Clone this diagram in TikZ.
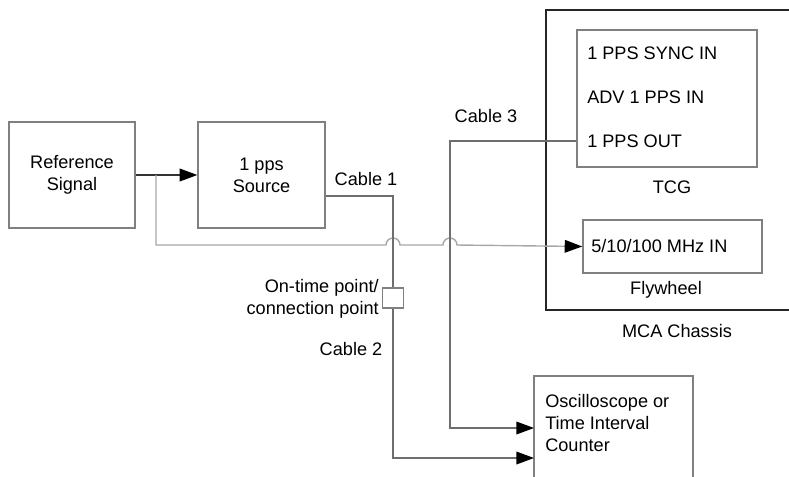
\documentclass[tikz,border=0pt]{standalone}
\usepackage{fontspec}
\setmainfont{Liberation Sans}
\usetikzlibrary{arrows.meta}
\definecolor{boxgray}{HTML}{808080}
\definecolor{refgray}{HTML}{A8A8A8}
\definecolor{cablegray}{HTML}{6E6E6E}
\tikzset{
	unit/.style={draw=boxgray, line width=1pt, inner sep=0pt, align=center},
	port/.style={inner sep=0pt, anchor=west},
	label/.style={inner sep=0pt, align=center},
	cable/.style={draw=cablegray, line width=0.9pt},
	signal/.style={draw=refgray, line width=1pt},
	tip/.style={-{Triangle[length=12.5pt,width=9pt,color=black]}},
}
\begin{document}
\begin{tikzpicture}[x=0.025cm, y=-0.025cm, font=\fontsize{12.9}{15.6}\selectfont]
		\useasboundingbox (0,0) rectangle (789,476);

		% draw the reference and the 1 pps source
		\node[unit, minimum width=126*0.025cm, minimum height=106*0.025cm] (ref) at (72,175) {Reference\\Signal};
		\node[unit, minimum width=127*0.025cm, minimum height=106*0.025cm] (src) at (261.5,175) {1 pps\\Source};
		\draw[black!80, line width=1pt, tip] (ref.east) -- (src.west);

		% draw the MCA chassis with the TCG and the flywheel
		\draw[black!85, line width=1.4pt] (810,10) -- (546,10) -- (546,310) -- (810,310);
		\node[unit, minimum width=180*0.025cm, minimum height=137*0.025cm] (tcg) at (667,98.5) {};
		\node[port] (syncin) at (587,53) {1 PPS SYNC IN};
		\node[port] (advin) at (587,97) {ADV 1 PPS IN};
		\node[port] (ppsout) at (587,141) {1 PPS OUT};
		\node[label] (tcglabel) at (672,187) {TCG};
		\node[unit, minimum width=179*0.025cm, minimum height=53*0.025cm] (fly) at (672.5,246.5) {};
		\node[port] (mhzin) at (591,246.5) {5/10/100 MHz IN};
		\node[label] (flylabel) at (666,290) {Flywheel};
		\node[label] (mca) at (677,331) {MCA Chassis};

		% draw the oscilloscope
		\draw[draw=boxgray, line width=1pt] (534,490) |- (693,376) -- (693,490);
		\coordinate (scope) at (534,376);
		\node[anchor=north west, inner sep=0pt, align=left] (scopetext) at (545,394) {Oscilloscope or\\Time Interval\\Counter};

		% draw the connection point
		\node[unit, minimum width=21*0.025cm, minimum height=20*0.025cm] (cp) at (393,298) {};
		\node[label, anchor=east, align=right] (cplabel) at (379,299) {On-time point/\\connection point};

		% draw the reference line to the flywheel, hopping over the cables
		\draw[signal, tip] (156,175) -- (156,245) -- (386,245)
			arc [start angle=180, end angle=360, radius=7] -- (443,245)
			arc [start angle=180, end angle=360, radius=7] -- (fly.west);

		% draw the three cables
		\draw[cable] (src.east |- 0,196) -- (393,196) -- (cp.north);
		\draw[cable, tip] (cp.south) -- (393,458) -- (scope |- 0,458);
		\draw[cable, tip] (tcg.west |- ppsout) -- (450,141) -- (450,428) -- (scope |- 0,428);
		\node[label] (cable1) at (366,179) {Cable 1};
		\node[label] (cable2) at (351,349) {Cable 2};
		\node[label] (cable3) at (486,116) {Cable 3};
	\end{tikzpicture}
\end{document}
